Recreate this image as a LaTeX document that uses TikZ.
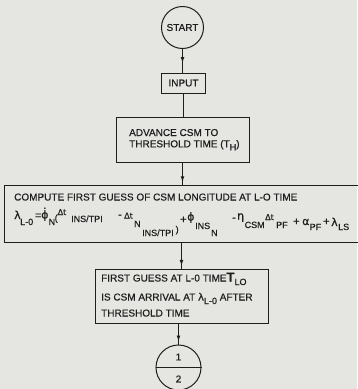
\documentclass[tikz,border=0pt]{standalone}
\usepackage{fontspec}
\setmainfont{Liberation Sans}[FakeBold=0.5]
\newfontfamily\grk{DejaVu Sans}[FakeBold=0.6]
\usetikzlibrary{arrows.meta,decorations.markings}

\definecolor{paper}{RGB}{229,229,226}
\definecolor{ink}{RGB}{30,30,30}

% sizes for the formula pieces
\newcommand\subsz{\fontsize{9}{10}\selectfont}
\newcommand\symsz{\fontsize{11}{12}\selectfont}
\newcommand\dsz{\fontsize{8}{9}\selectfont}
% one piece of the formula: offset, raise, content (zero width)
\newcommand\fpiece[3]{\makebox[0pt][l]{\hspace*{#1pt}\raisebox{#2pt}{#3}}}
\newcommand\phidot{\ooalign{ϕ\cr\hidewidth\raisebox{2.5pt}{˙}\hidewidth\cr}}

\tikzset{
  every node/.style={text=ink, font=\fontsize{10}{11}\selectfont},
  boxed/.style={draw=ink, line width=1pt, rectangle, inner sep=0pt},
  disc/.style={draw=ink, line width=1pt, circle, inner sep=0pt},
  txt/.style={inner sep=0pt, anchor=base west},
  plainline/.style={draw=ink, line width=0.9pt},
  flow/.style={draw=ink, line width=0.9pt, postaction={decorate},
    decoration={markings, mark=at position #1 with {\arrow{Latex[length=6pt,width=3.8pt]}}}},
  flow/.default=0.85
}

\begin{document}
\begin{tikzpicture}[x=1pt,y=-1pt]
\useasboundingbox (0,0) rectangle (357,389);
\fill[paper] (0,0) rectangle (357,389);

% start terminal
\node[disc, minimum size=42pt] (start) at (182.5,27.5) {START};

% input box
\node[boxed, minimum width=44pt, minimum height=20pt] (input) at (183.5,83) {INPUT};

% advance box
\node[boxed, minimum width=133pt, minimum height=45pt] (advance) at (182.5,139.5) {};
\node[txt] (adv1) at (129,136) {ADVANCE CSM TO};
\node[txt] (adv2) at (129,147.3) {THRESHOLD TIME (T\raisebox{-3pt}{\subsz H})};

% longitude computation box (runs past the right edge)
\node[boxed, minimum width=358pt, minimum height=57pt, anchor=north west] (guess) at (4,185) {};
\node[txt] (guess1) at (14,200.5) {COMPUTE FIRST GUESS OF CSM LONGITUDE AT L-O TIME};
\node[txt] (formula) at (14,228) {%
  \fpiece{0}{9}{\grk\symsz λ}%
  \fpiece{6}{3}{\subsz L-0}%
  \fpiece{21}{9}{\symsz =}%
  \fpiece{27}{9.5}{\grk\symsz\phidot}%
  \fpiece{34.5}{3}{\subsz N}%
  \fpiece{40.5}{7}{\subsz (}%
  \fpiece{43.5}{13}{\grk\dsz Δt}%
  \fpiece{57}{6}{\subsz INS/TPI}%
  \fpiece{104}{10}{\symsz -}%
  \fpiece{110}{9.5}{\grk\dsz Δt}%
  \fpiece{120}{1}{\subsz N}%
  \fpiece{128}{-8}{\subsz INS/TPI}%
  \fpiece{161.5}{-4.5}{\subsz )}%
  \fpiece{166}{5}{\symsz +}%
  \fpiece{173}{7.5}{\grk\symsz ϕ}%
  \fpiece{181}{-1}{\subsz INS}%
  \fpiece{197}{-8}{\subsz N}%
  \fpiece{218}{7}{\symsz -}%
  \fpiece{223}{8.5}{\grk\symsz η}%
  \fpiece{230.5}{0}{\subsz CSM}%
  \fpiece{251}{8}{\grk\dsz Δt}%
  \fpiece{262}{0}{\subsz PF}%
  \fpiece{279}{3}{\symsz +}%
  \fpiece{288}{3}{\grk\symsz α}%
  \fpiece{295.5}{-2}{\subsz PF}%
  \fpiece{309}{3}{\symsz +}%
  \fpiece{317}{2}{\grk\symsz λ}%
  \fpiece{324}{-2}{\subsz LS}%
  \hspace*{338pt}};

% first guess box
\node[boxed, minimum width=173pt, minimum height=54pt] (first) at (181.5,296) {};
\node[txt] (first1) at (101,281.5) {FIRST GUESS AT L-0 TIME{\fontsize{13}{13}\selectfont\bfseries T}\raisebox{-3.5pt}{\subsz LO}};
\node[txt] (first2) at (101,300.5) {IS CSM ARRIVAL AT {\grk λ}\raisebox{-3.5pt}{\subsz L-0} AFTER};
\node[txt] (first3) at (101,316.5) {THRESHOLD TIME};

% off-page connector
\node[disc, minimum size=45pt] (conn) at (178.5,367.5) {};
\draw[plainline] (conn.west) -- (conn.east);
\node (c1) at (178.5,357) {1};
\node (c2) at (178.5,379) {2};

% connectors
\draw[flow=0.6] (start) -- (start |- input.north);
\draw[plainline] (input) -- (input |- advance.north);
\draw[flow=0.88] (advance) -- (advance |- guess.north);
\draw[flow=0.9] (first.north |- guess.south) -- (first.north);
\draw[flow=0.86] (conn.north |- first.south) -- (conn.north);
\end{tikzpicture}
\end{document}
